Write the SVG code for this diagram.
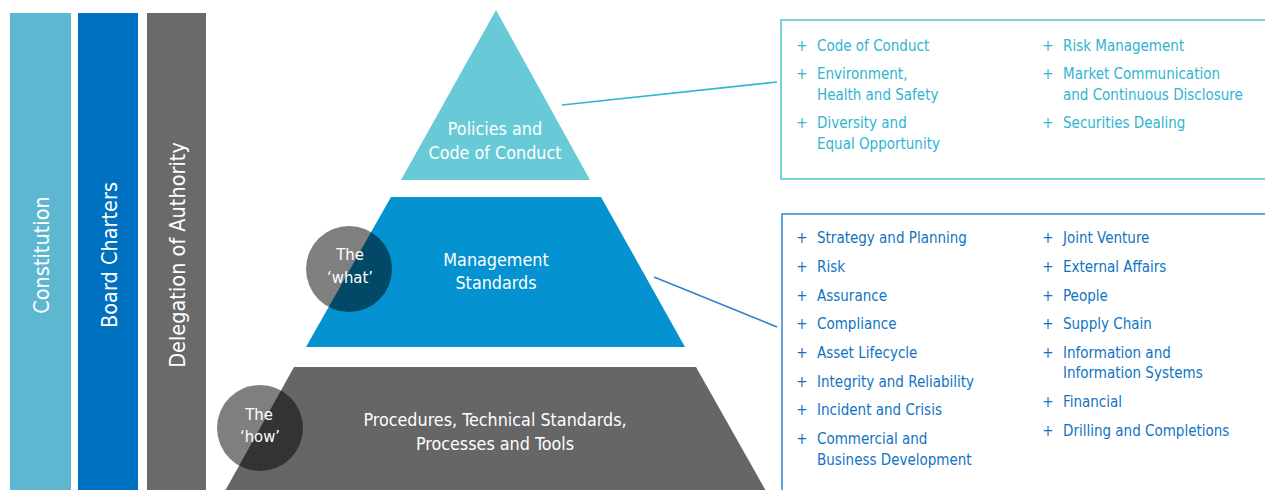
<svg xmlns="http://www.w3.org/2000/svg" width="1265" height="490" viewBox="0 0 1265 490">
  <style>
    text { font-family: 'DejaVu Sans Condensed', 'DejaVu Sans', sans-serif; font-stretch: condensed; }
    .bar-label { fill: #ffffff; font-size: 21.5px; text-anchor: middle; dominant-baseline: central; }
    .tier-label { fill: #ffffff; font-size: 17.8px; text-anchor: middle; }
    .badge { fill: #000000; fill-opacity: 0.5; }
    .badge-label { fill: #ffffff; font-size: 16.5px; text-anchor: middle; }
    .list { font-size: 15px; }
    .list-policy { fill: #2fb4d2; }
    .list-standard { fill: #1173c4; }
    .plus { text-anchor: middle; }
    .panel { fill: #ffffff; stroke-width: 1.6; }
  </style>

  <rect width="1265" height="490" fill="#ffffff"/>

  <!-- Vertical framework bars -->
  <g id="bar-constitution">
    <rect x="10" y="13" width="61" height="480" fill="#5db7d0"/>
    <text class="bar-label" transform="translate(41,255) rotate(-90)">Constitution</text>
  </g>
  <g id="bar-board-charters">
    <rect x="78" y="13" width="60" height="480" fill="#0070c0"/>
    <text class="bar-label" transform="translate(109,255) rotate(-90)">Board Charters</text>
  </g>
  <g id="bar-delegation">
    <rect x="147" y="13" width="59" height="480" fill="#6a6a6a"/>
    <text class="bar-label" transform="translate(177,255) rotate(-90)">Delegation of Authority</text>
  </g>

  <!-- Pyramid tiers -->
  <g id="tier-policies">
    <polygon points="496,10 590,180 401,180" fill="#68cad7"/>
    <text class="tier-label" x="495" y="135">Policies and</text>
    <text class="tier-label" x="495" y="159">Code of Conduct</text>
  </g>
  <g id="tier-management">
    <polygon points="391,197 601,197 685,347 306,347" fill="#0492d0"/>
    <text class="tier-label" x="496" y="266">Management</text>
    <text class="tier-label" x="496" y="289">Standards</text>
  </g>
  <g id="tier-procedures">
    <polygon points="294,367 696,367 766,491 225,491" fill="#666666"/>
    <text class="tier-label" x="495" y="426">Procedures, Technical Standards,</text>
    <text class="tier-label" x="495" y="450">Processes and Tools</text>
  </g>

  <!-- Overlay badges -->
  <g id="badge-what">
    <circle class="badge" cx="349" cy="269" r="43"/>
    <text class="badge-label" x="350" y="260">The</text>
    <text class="badge-label" x="350" y="283">&#8216;what&#8217;</text>
  </g>
  <g id="badge-how">
    <circle class="badge" cx="260" cy="428" r="43"/>
    <text class="badge-label" x="259" y="420">The</text>
    <text class="badge-label" x="260" y="442">&#8216;how&#8217;</text>
  </g>

  <!-- Connectors -->
  <g id="connectors" fill="none" stroke-width="1.6">
    <line x1="562" y1="105" x2="777" y2="82" stroke="#2eb7d3"/>
    <line x1="654" y1="277" x2="777" y2="327" stroke="#2f86cf"/>
  </g>

  <!-- Policies list panel -->
  <g id="panel-policies" class="list list-policy">
    <rect class="panel" x="781" y="20" width="490" height="159" stroke="#55c4db"/>
    <text class="plus" x="802" y="50.5">+</text>
    <text x="817" y="50.5">Code of Conduct</text>
    <text class="plus" x="802" y="79">+</text>
    <text x="817" y="79">Environment,</text>
    <text x="817" y="99.5">Health and Safety</text>
    <text class="plus" x="802" y="128">+</text>
    <text x="817" y="128">Diversity and</text>
    <text x="817" y="149">Equal Opportunity</text>
    <text class="plus" x="1048" y="50.5">+</text>
    <text x="1063" y="50.5">Risk Management</text>
    <text class="plus" x="1048" y="79">+</text>
    <text x="1063" y="79">Market Communication</text>
    <text x="1063" y="99.5">and Continuous Disclosure</text>
    <text class="plus" x="1048" y="128">+</text>
    <text x="1063" y="128">Securities Dealing</text>
  </g>

  <!-- Management standards list panel -->
  <g id="panel-standards" class="list list-standard">
    <rect class="panel" x="782" y="214" width="490" height="290" stroke="#3b8ed8"/>
    <text class="plus" x="802" y="243">+</text>
    <text x="817" y="243">Strategy and Planning</text>
    <text class="plus" x="802" y="271.5">+</text>
    <text x="817" y="271.5">Risk</text>
    <text class="plus" x="802" y="300.5">+</text>
    <text x="817" y="300.5">Assurance</text>
    <text class="plus" x="802" y="329">+</text>
    <text x="817" y="329">Compliance</text>
    <text class="plus" x="802" y="358">+</text>
    <text x="817" y="358">Asset Lifecycle</text>
    <text class="plus" x="802" y="386.5">+</text>
    <text x="817" y="386.5">Integrity and Reliability</text>
    <text class="plus" x="802" y="415">+</text>
    <text x="817" y="415">Incident and Crisis</text>
    <text class="plus" x="802" y="444">+</text>
    <text x="817" y="444">Commercial and</text>
    <text x="817" y="464.5">Business Development</text>
    <text class="plus" x="1048" y="243">+</text>
    <text x="1063" y="243">Joint Venture</text>
    <text class="plus" x="1048" y="271.5">+</text>
    <text x="1063" y="271.5">External Affairs</text>
    <text class="plus" x="1048" y="300.5">+</text>
    <text x="1063" y="300.5">People</text>
    <text class="plus" x="1048" y="329">+</text>
    <text x="1063" y="329">Supply Chain</text>
    <text class="plus" x="1048" y="358">+</text>
    <text x="1063" y="358">Information and</text>
    <text x="1063" y="378">Information Systems</text>
    <text class="plus" x="1048" y="407">+</text>
    <text x="1063" y="407">Financial</text>
    <text class="plus" x="1048" y="435.5">+</text>
    <text x="1063" y="435.5">Drilling and Completions</text>
  </g>
</svg>
